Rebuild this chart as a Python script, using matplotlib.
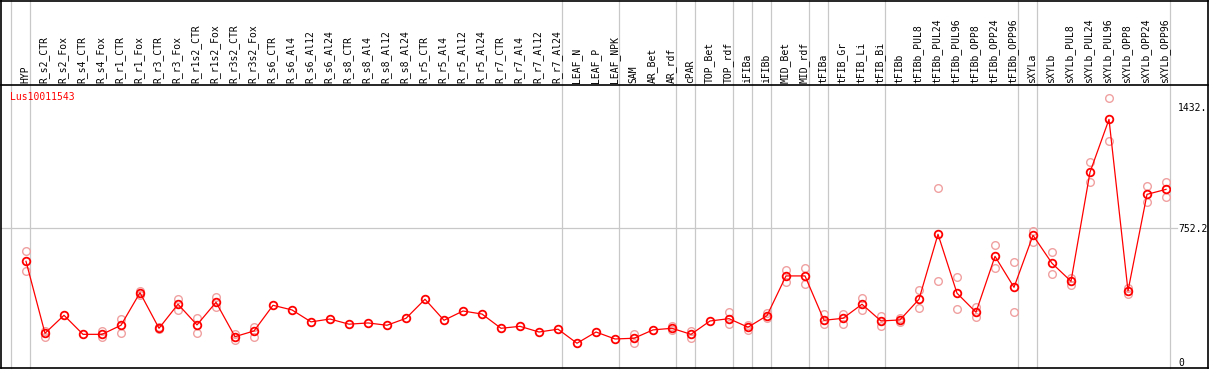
import numpy as np
import matplotlib
matplotlib.use('Agg')
import matplotlib.pyplot as plt
import matplotlib.transforms as mtransforms
from matplotlib.lines import Line2D

# samples (header labels) in plot order
samples = ['HYP',
           'R_s2_CTR', 'R_s2_Fox', 'R_s4_CTR', 'R_s4_Fox', 'R_r1_CTR', 'R_r1_Fox',
           'R_r3_CTR', 'R_r3_Fox', 'R_r1s2_CTR', 'R_r1s2_Fox', 'R_r3s2_CTR', 'R_r3s2_Fox',
           'R_s6_CTR', 'R_s6_Al4', 'R_s6_Al12', 'R_s6_Al24',
           'R_s8_CTR', 'R_s8_Al4', 'R_s8_Al12', 'R_s8_Al24',
           'R_r5_CTR', 'R_r5_Al4', 'R_r5_Al12', 'R_r5_Al24',
           'R_r7_CTR', 'R_r7_Al4', 'R_r7_Al12', 'R_r7_Al24',
           'LEAF_N', 'LEAF_P', 'LEAF_NPK',
           'SAM', 'AR_Bet', 'AR_rdf',
           'cPAR', 'TOP_Bet', 'TOP_rdf', 'iFIBa', 'iFIBb', 'MID_Bet', 'MID_rdf',
           'tFIBa', 'tFIB_Gr', 'tFIB_Li', 'tFIB_Bi',
           'tFIBb', 'tFIBb_PUL8', 'tFIBb_PUL24', 'tFIBb_PUL96',
           'tFIBb_OPP8', 'tFIBb_OPP24', 'tFIBb_OPP96',
           'sXYLa',
           'sXYLb', 'sXYLb_PUL8', 'sXYLb_PUL24', 'sXYLb_PUL96',
           'sXYLb_OPP8', 'sXYLb_OPP24', 'sXYLb_OPP96']

# number of samples in each group (gray separators between groups)
group_sizes = [1, 28, 3, 3, 1, 2, 1, 1, 2, 1, 3, 7, 1, 7]

gene = 'Lus10011543'

means = [565, 161, 262, 155, 155, 206, 389, 189, 324, 208, 335, 142, 174,
         318, 292, 225, 241, 212, 219, 206, 245, 352, 234, 286, 269,
         189, 200, 168, 184, 105, 168, 129, 133, 180, 189,
         155, 230, 243, 195, 260, 483, 483,
         234, 245, 324, 230, 236, 352, 717, 386, 279, 593, 419,
         711, 554, 453, 1065, 1362, 399, 941, 969]

nan = np.nan
rep_hi = [621, 176, nan, nan, 176, 243, 400, 196, 354, 249, 367, 157, 195,
          nan, nan, nan, nan, nan, nan, nan, nan, nan, nan, nan, nan,
          nan, nan, nan, nan, nan, nan, nan, 155, nan, 202,
          176, nan, 281, 208, 273, 516, 528,
          269, 269, 359, 258, 249, 402, 975, 475, 307, 655, 560,
          735, 616, 473, 1123, 1480, 414, 986, 1010]
rep_lo = [509, 139, nan, nan, 139, 161, 376, 183, 292, 161, 310, 123, 142,
          nan, nan, nan, nan, nan, nan, nan, nan, nan, nan, nan, nan,
          nan, nan, nan, nan, nan, nan, nan, 108, nan, 177,
          133, nan, 212, 180, 247, 449, 440,
          213, 213, 292, 202, 223, 305, 453, 296, 253, 526, 279,
          675, 492, 432, 1009, 1239, 382, 896, 925]

yticks = [0, 752.2, 1432]
ytick_labels = ['0', '752.2', '1432.']

W, H = 1209, 370
mono = 'DejaVu Sans Mono'
red = '#ff0000'
pale = '#f0a0a0'
grid = '#c8c8c8'

fig = plt.figure(figsize=(W / 100, H / 100), dpi=100)
ax = fig.add_axes([1 / W, 2 / H, 1169 / W, 283 / H])

x = np.arange(len(samples))
ax.set_xlim(-25 / 19, 1144 / 19)
ax.set_ylim(-34, 1555)

# replicates
ax.plot(x, rep_hi, 'o', ms=5.5, mfc='none', mec=pale, mew=1.0, zorder=3)
ax.plot(x, rep_lo, 'o', ms=5.5, mfc='none', mec=pale, mew=1.0, zorder=3)
# means
ax.plot(x, means, '-', color=red, lw=0.9, zorder=4)
ax.plot(x, means, 'o', ms=5.5, mfc='none', mec=red, mew=1.3, zorder=5)

# group separators (run through the header too)
bounds = np.concatenate([[-1], np.cumsum(group_sizes) - 1]) + 0.23
for b in bounds:
    ax.axvline(b, ymin=0, ymax=368 / 283, color=grid, lw=0.9, clip_on=False, zorder=1)

ax.axhline(752.2, xmin=0, xmax=1.006, color=grid, lw=0.9, clip_on=False, zorder=1)

# header labels
trans = mtransforms.blended_transform_factory(ax.transData, ax.transAxes)
for xi, s in zip(x, samples):
    ax.text(xi - 0.05, 1 + 2 / 283, s, rotation=90, ha='center', va='bottom',
            family=mono, fontsize=7, transform=trans, clip_on=False)

ax.text(9 / 1169, (368 - 97) / 283, gene, color=red, family=mono, fontsize=7,
        ha='left', va='center', transform=ax.transAxes)

ax.set_xticks([])
ax.yaxis.tick_right()
ax.set_yticks(yticks)
ax.set_yticklabels(ytick_labels, family=mono, fontsize=7)
ax.tick_params(axis='y', length=0, pad=6)
for sp in ax.spines.values():
    sp.set_visible(False)


def px(xp, yp):
    return xp / W, 1 - yp / H


for (x0, y0), (x1, y1) in [((1, 0.5), (1208, 0.5)), ((1, 85), (1208, 85)),
                           ((1, 368), (1208, 368)), ((1, 0), (1, 368)),
                           ((1208, 0), (1208, 368))]:
    a, b = px(x0, y0)
    c, d = px(x1, y1)
    fig.add_artist(Line2D([a, c], [b, d], color='black', lw=1.2,
                          transform=fig.transFigure))

fig.savefig('out.png', dpi=100)
